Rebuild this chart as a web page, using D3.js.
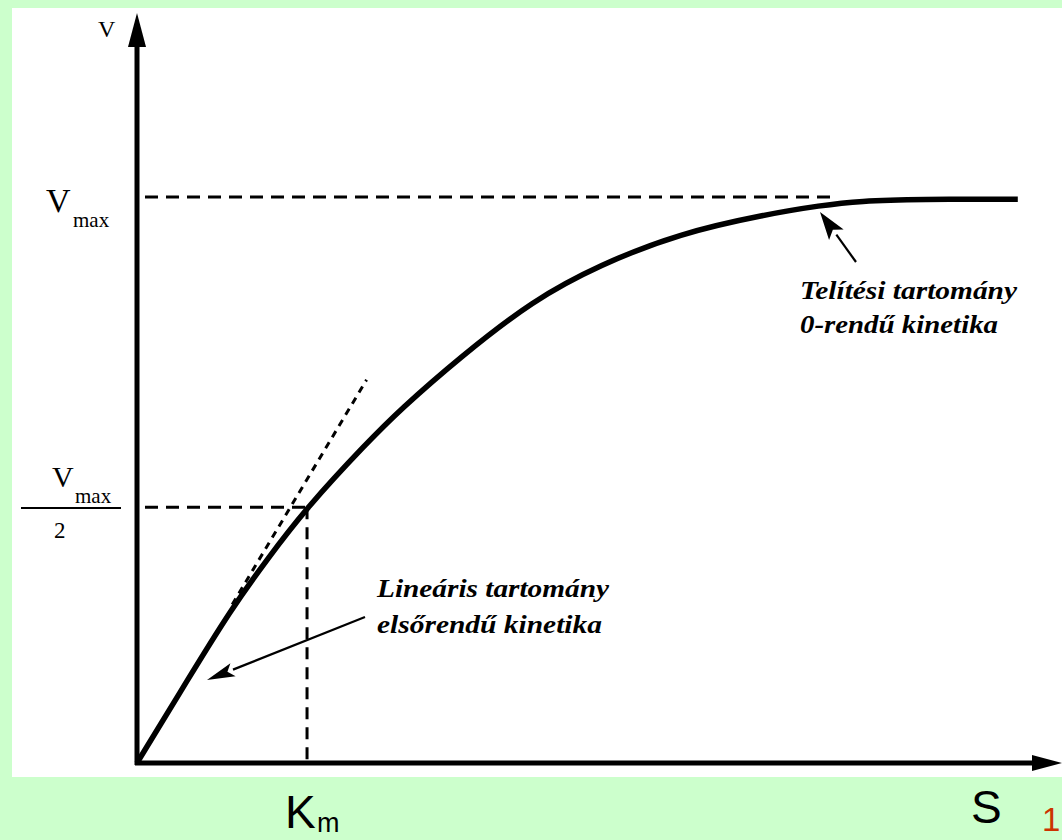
<!DOCTYPE html>
<html>
<head>
<meta charset="utf-8" />
<title>Michaelis-Menten</title>
<script src="https://d3js.org/d3.v7.min.js"></script>
<style>
  body { margin: 0; background: #ccffcc; }
  svg { display: block; }
</style>
</head>
<body>
<svg id="chart" width="1062" height="840"></svg>
<script>
// substrate concentration in units of Km, velocity in units of Vmax
var curveS = [0, 0.3, 0.55, 0.77, 1.0, 1.35, 1.55, 1.9, 2.33, 2.72, 3.19, 3.71, 4.02, 4.25, 4.6, 5.18];
var curveV = [0, 0.148, 0.27, 0.362, 0.452, 0.565, 0.625, 0.717, 0.818, 0.88, 0.936, 0.97, 0.985, 0.993, 0.996, 0.996];
var tangentS = [0.56, 1.35];
var tangentV = [0.28, 0.677];
var kmS = 1.0, halfV = 0.452, vmaxV = 1.0, vmaxEndS = 4.08;
var axisMaxS = 5.44, axisMaxV = 1.325;

var svg = d3.select("#chart");

var x = d3.scaleLinear().domain([0, axisMaxS]).range([137, 1062]);
var y = d3.scaleLinear().domain([0, vmaxV]).range([763, 197]);

// white panel
svg.append("rect").attr("x", 12).attr("y", 8).attr("width", 1050).attr("height", 769).attr("fill", "#fff");

// dashed guides
var dash = "13,8";
svg.append("line").attr("x1", x(0) + 8).attr("x2", x(vmaxEndS))
    .attr("y1", y(vmaxV)).attr("y2", y(vmaxV))
    .attr("stroke", "#000").attr("stroke-width", 3).attr("stroke-dasharray", dash);
svg.append("line").attr("x1", x(0) + 8).attr("x2", x(kmS))
    .attr("y1", y(halfV)).attr("y2", y(halfV))
    .attr("stroke", "#000").attr("stroke-width", 3).attr("stroke-dasharray", dash);
svg.append("line").attr("x1", x(kmS)).attr("x2", x(kmS))
    .attr("y1", y(halfV)).attr("y2", y(0))
    .attr("stroke", "#000").attr("stroke-width", 3).attr("stroke-dasharray", "12,8");

// tangent
svg.append("line").attr("x1", x(tangentS[0])).attr("y1", y(tangentV[0]))
    .attr("x2", x(tangentS[1])).attr("y2", y(tangentV[1]))
    .attr("stroke", "#000").attr("stroke-width", 3).attr("stroke-dasharray", "7,6");

// curve
var pts = curveS.map(function (s, i) { return [s, curveV[i]]; });
var line = d3.line()
    .x(function (d) { return x(d[0]); })
    .y(function (d) { return y(d[1]); })
    .curve(d3.curveBasis);
svg.append("path").datum(pts).attr("d", line)
    .attr("fill", "none").attr("stroke", "#000").attr("stroke-width", 5.5);

// axes
svg.append("line").attr("x1", x(0)).attr("y1", y(0) + 2).attr("x2", x(0)).attr("y2", y(axisMaxV) + 20)
    .attr("stroke", "#000").attr("stroke-width", 5);
svg.append("line").attr("x1", x(0) - 2).attr("y1", y(0)).attr("x2", x(axisMaxS) - 20).attr("y2", y(0))
    .attr("stroke", "#000").attr("stroke-width", 5);

// axis arrowheads
var ax = x(0), ay = y(axisMaxV);
svg.append("path")
    .attr("d", "M" + ax + "," + ay + " L" + (ax + 9) + "," + (ay + 34) + " L" + (ax - 9) + "," + (ay + 34) + "Z")
    .attr("fill", "#000");
var bx = x(axisMaxS), by = y(0);
svg.append("path")
    .attr("d", "M" + bx + "," + by + " L" + (bx - 30) + "," + (by - 8) + " L" + (bx - 30) + "," + (by + 8) + "Z")
    .attr("fill", "#000");

// annotation arrows
function arrow(x1, y1, x2, y2, len, w) {
    var a = Math.atan2(y2 - y1, x2 - x1);
    var bx = x2 - len * Math.cos(a), by = y2 - len * Math.sin(a);
    svg.append("line").attr("x1", x1).attr("y1", y1).attr("x2", bx).attr("y2", by)
        .attr("stroke", "#000").attr("stroke-width", 2.2);
    var px = -Math.sin(a) * w, py = Math.cos(a) * w;
    svg.append("path")
        .attr("d", "M" + x2 + "," + y2 + " L" + (bx + px) + "," + (by + py) + " L" + (bx + 6 * Math.cos(a)) + "," + (by + 6 * Math.sin(a)) +
            " L" + (bx - px) + "," + (by - py) + "Z")
        .attr("fill", "#000");
}
arrow(365, 617, 207, 680, 28, 7);
arrow(856, 262, 820, 212, 28, 9);

// annotation texts
var serif = "'Liberation Serif', 'Times New Roman', serif";
function note(tx, ty, str, len) {
    svg.append("text").attr("x", tx).attr("y", ty).text(str)
        .attr("font-family", serif).attr("font-style", "italic").attr("font-weight", "bold")
        .attr("font-size", 25).attr("textLength", len).attr("lengthAdjust", "spacingAndGlyphs");
}
note(377, 597, "Lineáris tartomány", 232);
note(377, 633, "elsőrendű kinetika", 225);
note(800, 299, "Telítési tartomány", 217);
note(800, 333, "0-rendű kinetika", 198);

// left labels
function txt(tx, ty, str, size, anchor) {
    return svg.append("text").attr("x", tx).attr("y", ty).text(str)
        .attr("font-family", serif).attr("font-size", size)
        .attr("text-anchor", anchor || "start");
}
txt(98, 37, "V", 24);
txt(46, 212, "V", 34);
txt(73, 227, "max", 21);
txt(52, 487, "V", 30);
txt(75, 503, "max", 21);
svg.append("line").attr("x1", 21).attr("x2", 121).attr("y1", 508).attr("y2", 508)
    .attr("stroke", "#000").attr("stroke-width", 2);
txt(54, 538, "2", 23);

// bottom labels
var sans = "'Liberation Sans', Arial, sans-serif";
svg.append("text").attr("x", 285).attr("y", 828).text("K")
    .attr("font-family", sans).attr("font-size", 46);
svg.append("text").attr("x", 317).attr("y", 832).text("m")
    .attr("font-family", sans).attr("font-size", 27);
svg.append("text").attr("x", 971).attr("y", 823).text("S")
    .attr("font-family", sans).attr("font-size", 46);
svg.append("text").attr("x", 1042).attr("y", 831).text("1")
    .attr("font-family", sans).attr("font-size", 33).attr("fill", "#cc3300");
</script>
</body>
</html>
